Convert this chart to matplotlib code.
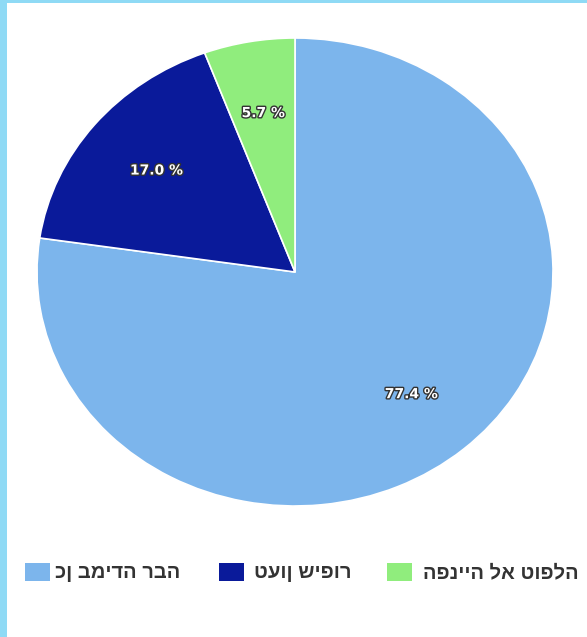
import matplotlib.pyplot as plt
import matplotlib.patheffects as pe
from matplotlib.patches import Rectangle

categories = ['כן במידה רבה', 'טעון שיפור', 'הפנייה לא טופלה']
values = [77.4, 17.0, 5.7]
colors = ['#7cb5ec', '#0a1a9a', '#90ed7d']

fig = plt.figure(figsize=(5.87, 6.37), dpi=100)
fig.patch.set_facecolor('white')

# frame strips (left and top) like the slide border
fig.add_artist(Rectangle((0, 0), 7 / 587, 1, transform=fig.transFigure,
                         facecolor='#8fdaf5', edgecolor='none'))
fig.add_artist(Rectangle((0, 1 - 3 / 637), 1, 3 / 637, transform=fig.transFigure,
                         facecolor='#8fdaf5', edgecolor='none'))

total = sum(values)
ax = fig.add_axes([37 / 587, 131 / 637, 516 / 587, 468 / 637])
wedges, texts, autotexts = ax.pie(
    values, colors=colors, startangle=90, counterclock=False,
    autopct=lambda p: f'{p * total / 100:.1f} %', pctdistance=0.69,
    wedgeprops=dict(edgecolor='white', linewidth=1.2),
    textprops=dict(color='white', fontsize=10, fontweight='bold'))
for t in autotexts:
    t.set_path_effects([pe.withStroke(linewidth=2, foreground='#333333')])
ax.set_xlim(-1.0, 1.0)
ax.set_ylim(-1.0, 1.0)
ax.set_aspect('auto')
ax.axis('off')

# legend (text shown in stored order, as in the original)
sq_x = [25, 219, 387]
txt_x = [55, 254, 423]
y_px = 573
for i, name in enumerate(categories):
    fig.add_artist(Rectangle((sq_x[i] / 587, (637 - 572 - 9) / 637), 25 / 587, 18 / 637,
                             transform=fig.transFigure, facecolor=colors[i], edgecolor='none'))
    fig.text(txt_x[i] / 587, (637 - y_px) / 637, name, fontsize=14.5,
             family=['Liberation Sans', 'DejaVu Sans'], fontweight='bold',
             color='#333333', va='center', ha='left')

plt.savefig('out.png', dpi=100)
